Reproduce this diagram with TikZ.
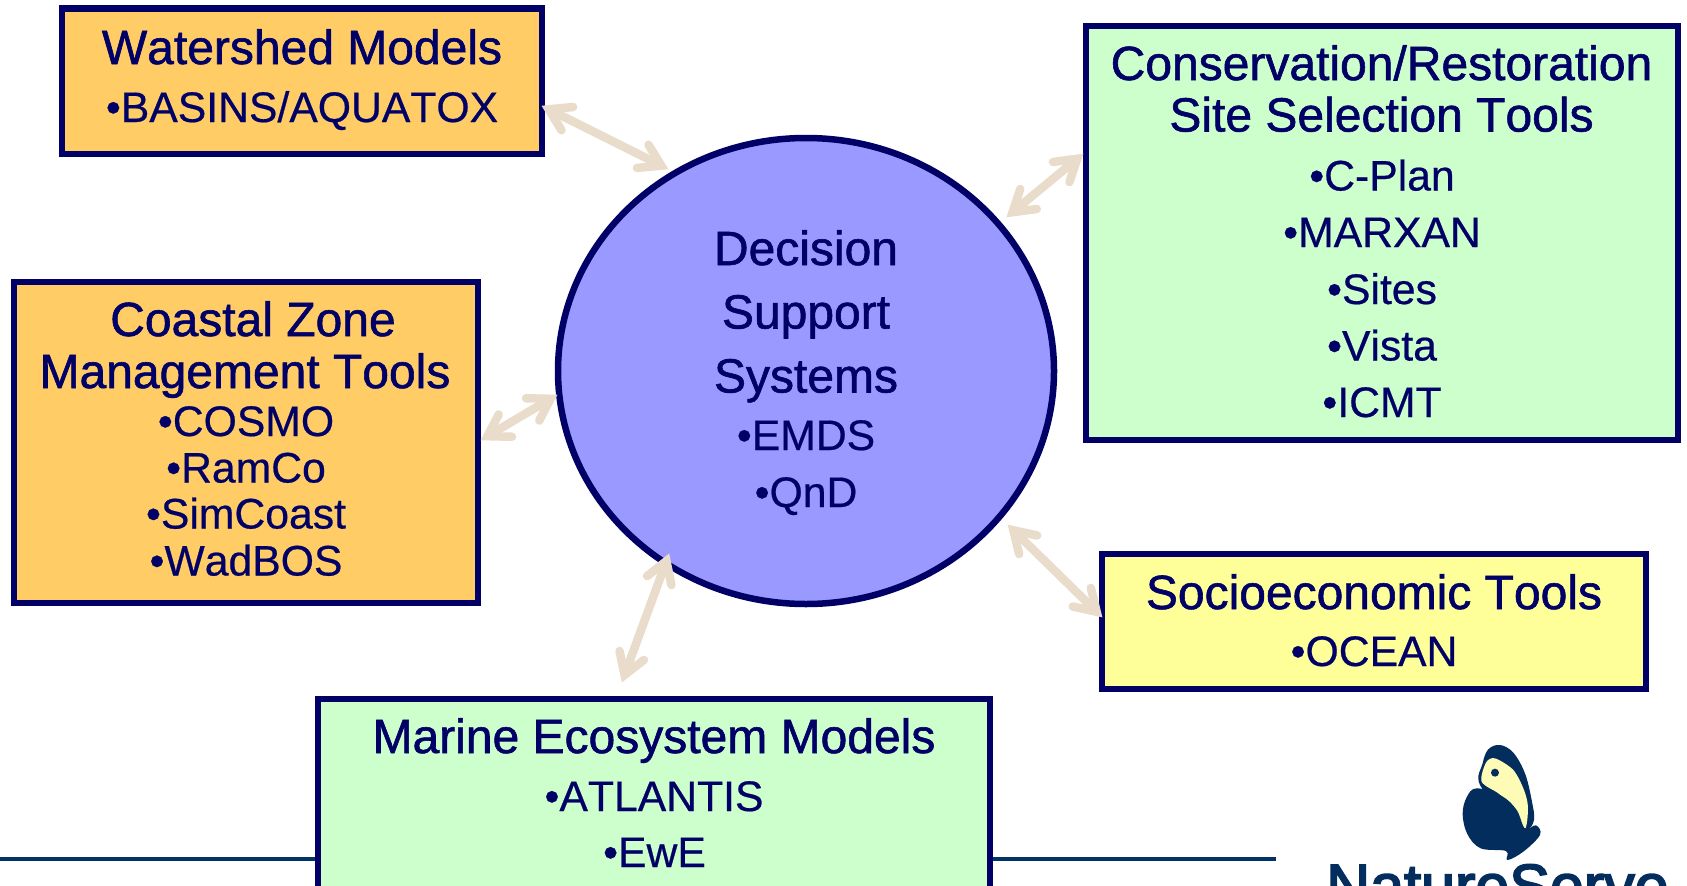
\documentclass[tikz,border=0pt]{standalone}
\usepackage{fontspec}
\setmainfont{Liberation Sans}[FakeBold=0.5,Kerning=Off]
\newfontfamily\headfont[FakeBold=1.2,Kerning=Off]{Liberation Sans}
\newfontfamily\logofont[FakeBold=3]{Liberation Sans}
\usetikzlibrary{shapes.geometric,calc}
\definecolor{navy}{HTML}{000066}
\definecolor{rulenavy}{HTML}{003366}
\definecolor{logonavy}{HTML}{032D5C}
\definecolor{logocream}{HTML}{FDFBB5}
\definecolor{beige}{HTML}{EADCCB}
\definecolor{boxorange}{HTML}{FFCC66}
\definecolor{boxgreen}{HTML}{CCFFCC}
\definecolor{boxyellow}{HTML}{FFFF99}
\definecolor{dssblue}{HTML}{9999FF}
\tikzset{
  panel/.style={draw=navy,line width=6.5pt,inner sep=0pt,rectangle},
  hub/.style={draw=navy,fill=dssblue,line width=6.5pt,ellipse,inner sep=0pt,minimum width=496pt,minimum height=466pt},
  head/.style={text=navy,inner sep=0pt,anchor=base,font=\headfont\fontsize{48}{50}\selectfont},
  item/.style={text=navy,inner sep=0pt,anchor=base,font=\fontsize{42.7}{45}\selectfont},
  link/.style={draw=beige,line width=8.5pt,line cap=butt},
  barbs/.style={draw=beige,line width=8.5pt,line cap=round,line join=miter,miter limit=10},
}
\newcommand\barbhead[2]{\coordinate (vtx) at ($(#1)!7.5pt!(#2)$);
  \draw[barbs] ($(vtx)!24.5pt!32:(#2)$) -- (vtx) -- ($(vtx)!24.5pt!-32:(#2)$);}
\newcommand\linkpair[2]{\draw[link] ($(#1)!7.5pt!(#2)$) -- ($(#2)!7.5pt!(#1)$);
  \barbhead{#1}{#2}\barbhead{#2}{#1}}
\begin{document}
\begin{tikzpicture}[x=1pt,y=-1pt]
\clip (0,0) rectangle (1687,886);
\useasboundingbox (0,0) rectangle (1687,886);
\fill[white] (0,0) rectangle (1687,886);
\coordinate (ruleL) at (0,859);
\coordinate (ruleR) at (1275.5,859);
\draw[rulenavy,line width=4pt] (ruleL) -- (ruleR);

\node[panel,fill=boxorange,minimum width=480pt,minimum height=145.7pt] (wat) at (302,81.35) {};
\node[panel,fill=boxorange,minimum width=464pt,minimum height=321pt] (coast) at (246,442.5) {};
\node[panel,fill=boxgreen,minimum width=592pt,minimum height=414pt] (cons) at (1382,233) {};
\node[panel,fill=boxyellow,minimum width=544pt,minimum height=135pt] (soc) at (1374,621.5) {};
\node[panel,fill=boxgreen,minimum width=672pt,minimum height=201pt] (mar) at (654,799.5) {};
\node[hub] (dss) at (806,371) {};

\node[head] (wat1) at (302,64) {Watershed Models};
\node[item] (wat2) at (302,122) {•BASINS/AQUATOX};

\node[head] (coast1) at (253,336) {Coastal Zone};
\node[head] (coast2) at (245,388) {Management Tools};
\node[item] (coast3) at (246,436) {•COSMO};
\node[item] (coast4) at (246,482.5) {•RamCo};
\node[item] (coast5) at (246,528.5) {•SimCoast};
\node[item] (coast6) at (246,575.5) {•WadBOS};

\node[head] (cons1) at (1381.5,80) {Conservation/Restoration};
\node[head] (cons2) at (1381.5,131.5) {Site Selection Tools};
\node[item] (cons3) at (1382,190.5) {•C-Plan};
\node[item] (cons4) at (1382,247) {•MARXAN};
\node[item] (cons5) at (1382,304) {•Sites};
\node[item] (cons6) at (1382,360.5) {•Vista};
\node[item] (cons7) at (1382,417) {•ICMT};

\node[head] (soc1) at (1374,609) {Socioeconomic Tools};
\node[item] (soc2) at (1374,666) {•OCEAN};

\node[head] (mar1) at (654,753) {Marine Ecosystem Models};
\node[item] (mar2) at (654,811) {•ATLANTIS};
\node[item] (mar3) at (654.5,867) {•EwE};

\node[head] (dss1) at (806,265) {Decision};
\node[head] (dss2) at (806,328.5) {Support};
\node[head] (dss3) at (806,392.5) {Systems};
\node[item] (dss4) at (806,450) {•EMDS};
\node[item] (dss5) at (806,507) {•QnD};

\coordinate (watEnd) at ($(wat.center)+(240,24.65)$);
\coordinate (hubA) at ($(dss.center)+(-138,-202)$);
\coordinate (consEnd) at ($(cons.center)+(-299,-79)$);
\coordinate (hubB) at ($(dss.center)+(200.7,-154)$);
\coordinate (coastEnd) at ($(coast.center)+(235,-2.5)$);
\coordinate (hubC) at ($(dss.center)+(-249,24)$);
\coordinate (socEnd) at ($(soc.center)+(-272,-4.5)$);
\coordinate (hubD) at ($(dss.center)+(202,154)$);
\coordinate (marEnd) at ($(mar.center)+(-32,-117.5)$);
\coordinate (hubE) at ($(dss.center)+(-137,183)$);
\linkpair{watEnd}{hubA}
\linkpair{consEnd}{hubB}
\linkpair{coastEnd}{hubC}
\linkpair{socEnd}{hubD}
\linkpair{marEnd}{hubE}

% logo
\begin{scope}[shift={(1250,720)},x=0.3333pt,y=-0.3333pt]
\fill[logonavy] plot[smooth cycle,tension=0.6] coordinates {(690,195)(698,130)(715,88)(750,75)(790,98)(825,160)(845,240)(852,300)(828,330)(780,300)};
\fill[logocream] plot[smooth cycle,tension=0.5] coordinates {(695,185)(708,128)(735,115)(790,150)(822,210)(834,262)(825,325)(790,260)(745,220)};
\fill[logonavy] plot[smooth cycle,tension=0.6] coordinates {(680,205)(650,232)(638,282)(652,342)(692,385)(768,393)(772,420)(820,395)(870,345)(858,316)(825,326)(800,270)(755,228)};
\fill[logonavy] (735,158) circle (12);
\end{scope}
\node[anchor=base west,inner sep=0pt,text=logonavy,font=\logofont\fontsize{61}{65}\selectfont] (logo) at (1326,907) {NatureServe};
\end{tikzpicture}
\end{document}
